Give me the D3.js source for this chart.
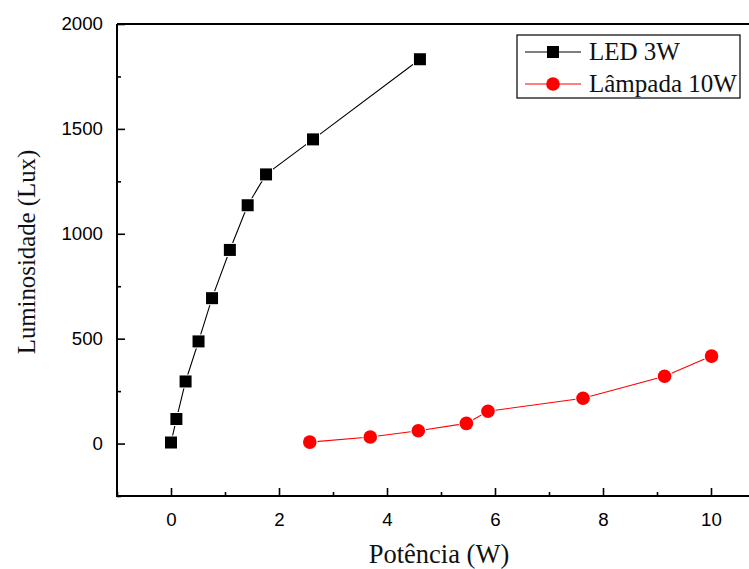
<!DOCTYPE html>
<html><head><meta charset="utf-8">
<script src="https://cdn.jsdelivr.net/npm/d3@7"></script>
<style>body{margin:0;background:#fff}svg{display:block}</style>
</head><body>
<svg id="c" width="749" height="569"></svg>
<script>
const ledX = [0.0, 0.10, 0.27, 0.51, 0.76, 1.09, 1.42, 1.76, 2.63, 4.61];
const ledY = [5, 117, 296, 487, 693, 923, 1136, 1283, 1450, 1832];
const lampX = [2.57, 3.69, 4.58, 5.47, 5.87, 7.63, 9.14, 10.01];
const lampY = [7, 31, 61, 96, 154, 216, 321, 417];
const xTicks = [0, 2, 4, 6, 8, 10];
const yTicks = [0, 500, 1000, 1500, 2000];
const seriesNames = ["LED 3W", "Lâmpada 10W"];

const svg = d3.select("#c");
const L = 117, T = 24, B = 496, R = 765;
const x = d3.scaleLinear().domain([-1, 11]).range([L, R]);
const y = d3.scaleLinear().domain([-250, 2000]).range([B, T]);

const xMinor = d3.range(-1, 12, 1).filter(v => v % 2 !== 0);
const yMinor = d3.range(-250, 2001, 250).filter(v => v % 500 !== 0);

const gx = svg.append("g").attr("transform", `translate(0,${B})`);
gx.call(d3.axisBottom(x).tickValues(xTicks).tickSize(-8).tickPadding(17).tickFormat(d3.format("d")));
const gxm = svg.append("g").attr("transform", `translate(0,${B})`);
gxm.call(d3.axisBottom(x).tickValues(xMinor).tickSize(-4).tickFormat(""));
const gy = svg.append("g").attr("transform", `translate(${L},0)`);
gy.call(d3.axisLeft(y).tickValues(yTicks).tickSize(-8).tickPadding(14).tickFormat(d3.format("d")));
const gym = svg.append("g").attr("transform", `translate(${L},0)`);
gym.call(d3.axisLeft(y).tickValues(yMinor).tickSize(-4).tickFormat(""));

svg.selectAll(".domain").remove();
svg.selectAll(".tick line").attr("stroke", "#000").attr("stroke-width", 1.6);
svg.selectAll(".tick text").attr("font-family", "Liberation Sans, Arial, sans-serif").attr("font-size", 18.7).attr("fill", "#000");
gx.selectAll(".tick text").attr("dy", "0.71em");

// Frame
svg.append("path").attr("d", `M${L},${T}H${R}`).attr("stroke", "#000").attr("stroke-width", 2.2);
svg.append("path").attr("d", `M${L},${T}V${B}H${R}`).attr("stroke", "#000").attr("stroke-width", 2).attr("fill", "none");

// Lines
const led = ledX.map((v, i) => [v, ledY[i]]);
const lamp = lampX.map((v, i) => [v, lampY[i]]);
const line = d3.line().x(d => x(d[0])).y(d => y(d[1]));
svg.append("path").attr("d", line(led)).attr("fill", "none").attr("stroke", "#000").attr("stroke-width", 1.1);
svg.append("path").attr("d", line(lamp)).attr("fill", "none").attr("stroke", "#ff0000").attr("stroke-width", 1.1);

// Markers with white halo
const sq = 12;
svg.append("g").selectAll("rect").data(led).join("rect")
  .attr("x", d => x(d[0]) - sq/2).attr("y", d => y(d[1]) - sq/2)
  .attr("width", sq).attr("height", sq).attr("fill", "#000")
  .attr("stroke", "#fff").attr("stroke-width", 2).attr("paint-order", "stroke");
svg.append("g").selectAll("circle").data(lamp).join("circle")
  .attr("cx", d => x(d[0])).attr("cy", d => y(d[1])).attr("r", 6.8)
  .attr("fill", "#ff0000").attr("stroke", "#fff").attr("stroke-width", 2).attr("paint-order", "stroke");

// Axis titles
svg.append("text").attr("x", 439).attr("y", 563).attr("text-anchor", "middle")
  .attr("font-family", "Liberation Serif, Times New Roman, serif").attr("font-size", 26.5).attr("fill", "#111")
  .text("Potência (W)");
svg.append("text").attr("transform", "translate(35,252) rotate(-90)").attr("text-anchor", "middle")
  .attr("font-family", "Liberation Serif, Times New Roman, serif").attr("font-size", 24.8).attr("fill", "#111")
  .text("Luminosidade (Lux)");

// Legend
const lg = svg.append("g");
lg.append("rect").attr("x", 517).attr("y", 35).attr("width", 223).attr("height", 63)
  .attr("fill", "#fff").attr("stroke", "#000").attr("stroke-width", 1.2);
const rows = [{y: 52, c: "#000", m: "sq"}, {y: 84, c: "#ff0000", m: "ci"}];
rows.forEach((r, i) => {
  lg.append("line").attr("x1", 525).attr("x2", 581).attr("y1", r.y).attr("y2", r.y).attr("stroke", r.c).attr("stroke-width", 1.1);
  if (r.m === "sq") lg.append("rect").attr("x", 553 - 6).attr("y", r.y - 6).attr("width", 12).attr("height", 12).attr("fill", r.c);
  else lg.append("circle").attr("cx", 553).attr("cy", r.y).attr("r", 6.8).attr("fill", r.c);
  lg.append("text").attr("x", 589).attr("y", r.y + 7.5).attr("font-family", "Liberation Serif, Times New Roman, serif")
    .attr("font-size", 25).attr("fill", "#111").text(seriesNames[i]);
});
</script>
</body></html>
